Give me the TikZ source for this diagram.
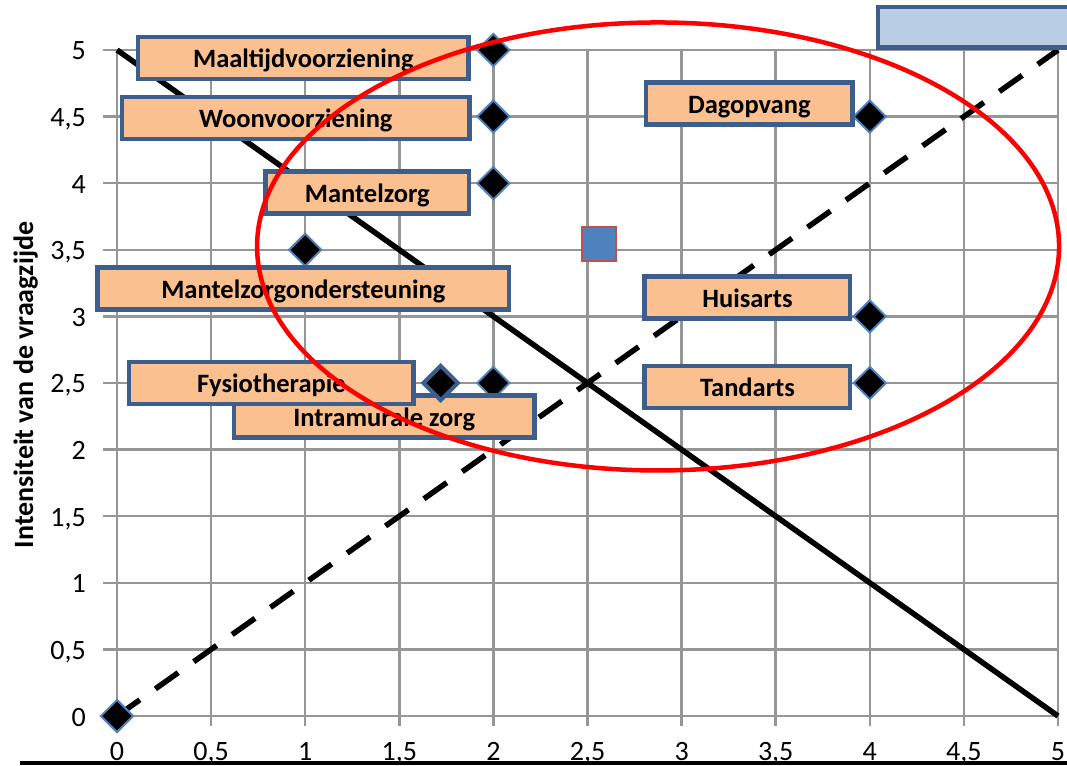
\documentclass[tikz,border=0pt]{standalone}
\usepackage{fontspec}
\setmainfont{Carlito}
\usetikzlibrary{shapes.geometric}

\definecolor{boxfill}{HTML}{FAC090}
\definecolor{boxline}{HTML}{3B5E8C}
\definecolor{gridgray}{HTML}{969696}
\definecolor{markline}{HTML}{4F81BD}
\definecolor{sqfill}{HTML}{4F81BD}
\definecolor{sqline}{HTML}{C0504D}
\definecolor{barfill}{HTML}{B9CDE5}

\tikzset{
  gridline/.style={gridgray, line width=2.5pt},
  lbl/.style={draw=boxline, line width=4.5pt, fill=boxfill, inner sep=0pt,
    minimum height=42pt, text height=20pt, text depth=0pt,
    font=\bfseries\fontsize{26.5}{30}\selectfont},
  diam/.style={diamond, aspect=1, fill=black, draw=markline, line width=2pt,
    minimum width=33pt, minimum height=33pt, inner sep=0pt},
  ticklbl/.style={font=\fontsize{28}{30}\selectfont, inner sep=0pt}
}

\begin{document}
\begin{tikzpicture}[x=188.2pt, y=133.2pt]
\useasboundingbox (-117pt,-49pt) rectangle (950pt,716pt);
\clip (-117pt,-49pt) rectangle (950pt,716pt);

\foreach \x in {0,0.5,...,5}
  \draw[gridline] ([yshift=-10pt]\x,0) -- (\x,5); % vertical grid lines
\foreach \y in {0,0.5,...,5}
  \draw[gridline] ([xshift=-14pt]0,\y) -- (5,\y); % horizontal grid lines

\draw[line width=5.5pt] (0,5) -- (5,0); % solid line
\draw[line width=5.5pt, dash pattern=on 28pt off 19pt] (0,0) -- (5,5); % dashed line

\node[diam] (nul) at (0,0) {}; % point at the origin
\node[diam] (maal) at (2,5) {}; % Maaltijdvoorziening
\node[diam] (woon) at (2,4.5) {}; % Woonvoorziening
\node[diam] (mzorg) at (2,4) {}; % Mantelzorg
\node[diam] (mzond) at (1,3.5) {}; % Mantelzorgondersteuning
\node[diam] (dag) at (4,4.5) {}; % Dagopvang
\node[diam] (huis) at (4,3) {}; % Huisarts
\node[diam] (tand) at (4,2.5) {}; % Tandarts
\node[diam] (intra) at (2,2.5) {}; % Intramurale zorg

\node[draw=sqline, fill=sqfill, line width=2pt, minimum size=34pt, inner sep=0pt] (gem) at (2.56,3.54) {}; % square point

\node[lbl, minimum width=330.5pt] (maallbl) at (0.99,4.94) {Maaltijdvoorziening}; % label
\node[lbl, minimum width=347.5pt] (woonlbl) at (0.95,4.49) {Woonvoorziening}; % label
\node[lbl, minimum width=203.5pt] (mzorglbl) at (1.33,3.93) {Mantelzorg}; % label
\node[lbl, minimum width=411.5pt] (mzondlbl) at (0.99,3.21) {Mantelzorgondersteuning}; % label
\node[lbl, minimum width=300.5pt] (intralbl) at (1.42,2.25) {Intramurale zorg}; % label
\node[lbl, minimum width=284.5pt] (fysiolbl) at (0.82,2.50) {Fysiotherapie}; % label
\node[lbl, minimum width=206.5pt] (daglbl) at (3.36,4.60) {Dagopvang}; % label
\node[lbl, minimum width=205.5pt] (huislbl) at (3.35,3.14) {Huisarts}; % label
\node[lbl, minimum width=205.5pt] (tandlbl) at (3.35,2.47) {Tandarts}; % label

\node[diam, draw=boxline, line width=4pt, minimum width=36pt, minimum height=36pt] (fysio) at (1.72,2.5) {}; % Fysiotherapie

\draw[boxline, line width=4.5pt, fill=barfill] (4.044,5.017) rectangle (5.3,5.321); % empty bar top right

\draw[red, line width=4.5pt] (2.875,3.525) ellipse [x radius=401pt, y radius=224pt]; % red ellipse

\foreach \y/\lab in {0/0, 0.5/{0,5}, 1/1, 1.5/{1,5}, 2/2, 2.5/{2,5}, 3/3, 3.5/{3,5}, 4/4, 4.5/{4,5}, 5/5}
  \node[ticklbl, anchor=base east] at ([xshift=-31pt, yshift=-10pt]0,\y) {\lab}; % y labels
\foreach \x/\lab in {0/0, 0.5/{0,5}, 1/1, 1.5/{1,5}, 2/2, 2.5/{2,5}, 3/3, 3.5/{3,5}, 4/4, 4.5/{4,5}, 5/5}
  \node[ticklbl, anchor=base] at ([yshift=-44pt]\x,0) {\lab}; % x labels

\node[rotate=90, anchor=base, font=\bfseries\fontsize{28}{30}\selectfont] (ytitle) at (-0.446,2.485) {Intensiteit van de vraagzijde}; % axis title

\fill ([yshift=-45pt]-0.515,0) rectangle ([yshift=-49pt]5.1,0); % black bar at the bottom
\end{tikzpicture}
\end{document}
